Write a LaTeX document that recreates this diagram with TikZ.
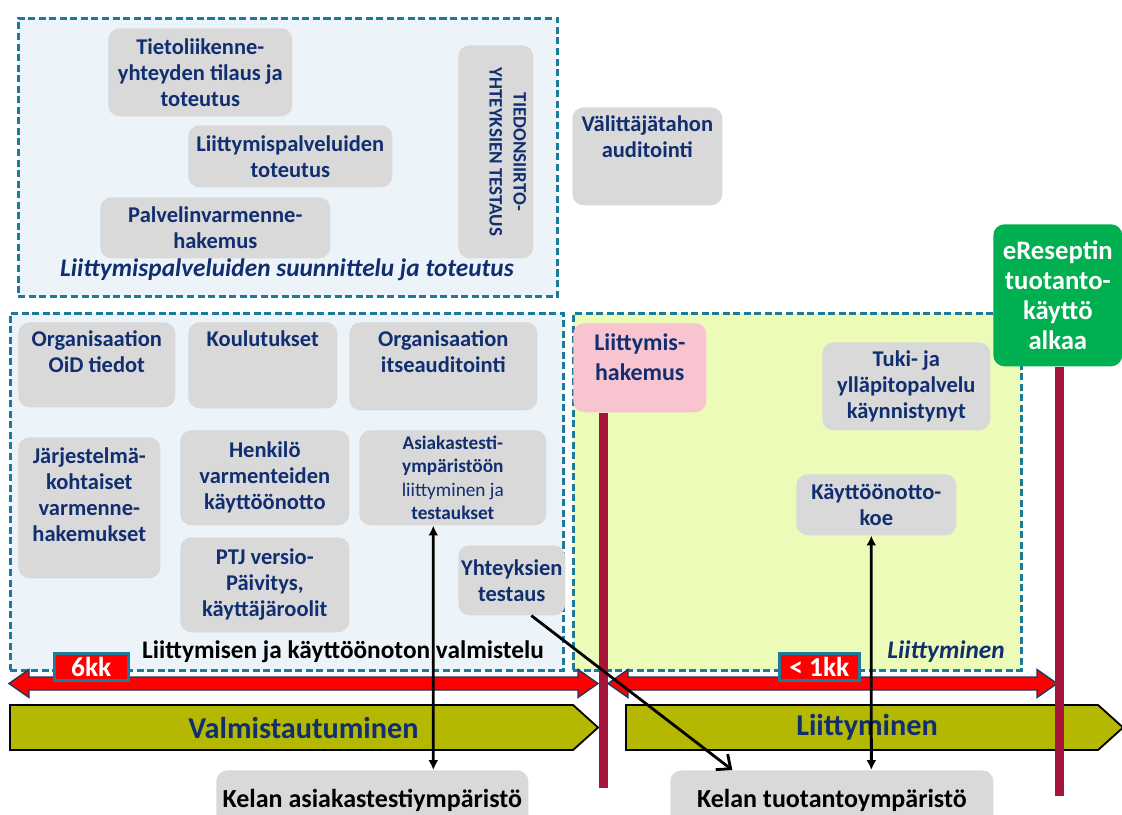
\documentclass[tikz,border=0pt]{standalone}
\usepackage{fontspec}
\setmainfont{Carlito}
\usetikzlibrary{positioning,arrows.meta,shapes.symbols}

\definecolor{tummansininen}{RGB}{16,46,112}
\definecolor{harmaa}{RGB}{217,217,217}
\definecolor{vaaleansininen}{RGB}{237,244,249}
\definecolor{turkoosi}{RGB}{28,122,154}
\definecolor{kellanvihrea}{RGB}{236,252,184}
\definecolor{roosa}{RGB}{248,196,208}
\definecolor{vihrea}{RGB}{0,176,80}
\definecolor{viininpunainen}{RGB}{166,20,58}
\definecolor{oliivi}{RGB}{181,184,0}
\definecolor{laivasto}{RGB}{31,56,100}

\newcommand{\laatikkofontti}{\fontsize{16}{18.5}\selectfont\bfseries}
\newcommand{\pienifontti}{\fontsize{13.7}{16.4}\selectfont\bfseries}
\newcommand{\pystyfontti}{\fontsize{13.5}{17}\selectfont\bfseries}
\newcommand{\hakemusfontti}{\fontsize{17}{22}\selectfont\bfseries}
\newcommand{\alkaafontti}{\fontsize{19}{21.5}\selectfont\bfseries}
\newcommand{\otsikkofontti}{\fontsize{18}{20}\selectfont\bfseries}
\newcommand{\kestofontti}{\fontsize{19.5}{20}\selectfont\bfseries}
\newcommand{\vaihefontti}{\fontsize{21.5}{26}\selectfont\bfseries}
\newcommand{\kelafontti}{\fontsize{18.5}{20}\selectfont\bfseries}

\begin{document}
\begin{tikzpicture}[x=0.025cm, y=-0.025cm,
  paneeli/.style={draw=turkoosi, line width=1.8pt, dash pattern=on 5pt off 2.5pt, anchor=north west, inner sep=0pt},
  laatikko/.style={fill=harmaa, rounded corners=8pt, anchor=north west, align=center, inner sep=2pt, text=tummansininen, font=\laatikkofontti},
  teksti/.style={align=center, text=tummansininen, font=\laatikkofontti, inner sep=0pt},
  otsikko/.style={inner sep=0pt, font=\otsikkofontti},
  kesto/.style={fill=red, draw=turkoosi, line width=1.8pt, anchor=north west, inner sep=0pt, text=white, font=\kestofontti},
  vaihe/.style={shape=signal, signal to=east, signal pointer angle=84, fill=oliivi, draw=black, line width=1.3pt, anchor=west, inner sep=0pt, minimum height=1.125cm, text=tummansininen, font=\vaihefontti},
  kela/.style={fill=harmaa, rounded corners=8pt, anchor=north west, inner sep=0pt, font=\kelafontti},
  raja/.style={draw=viininpunainen, line width=6.5pt},
  aikajana/.style={fill=red, draw=laivasto, line width=1pt},
  nuoli/.style={line width=2pt, {Latex[length=7pt,width=7pt]}-{Latex[length=7pt,width=7pt]}},
  vino/.style={line width=2pt, -{Straight Barb[length=8pt,width=14pt]}}
]
\clip (0,0) rectangle (1122,814);

% paneelit
\node[paneeli, fill=vaaleansininen, minimum width=13.475cm, minimum height=6.95cm] (suunnittelu) at (17,17) {};
\node[paneeli, fill=vaaleansininen, minimum width=13.825cm, minimum height=8.925cm] (valmistelu) at (9,312) {};
\node[paneeli, fill=kellanvihrea, minimum width=11.2cm, minimum height=8.925cm] (liittyminen) at (572,312) {};

% suunnittelu ja toteutus
\node[laatikko, minimum width=4.6cm, minimum height=2.2cm] (tietoliikenne) at (108,28) {Tietoliikenne-\\yhteyden tilaus ja\\toteutus};
\node[laatikko, minimum width=5.1cm, minimum height=1.55cm] (toteutus) at (188,125) {Liittymispalveluiden\\toteutus};
\node[laatikko, minimum width=5.75cm, minimum height=1.525cm] (palvelin) at (100,197) {Palvelinvarmenne-\\hakemus};
\node[laatikko, minimum width=1.875cm, minimum height=5.325cm] (siirto) at (458,45) {};
\node[teksti, font=\pystyfontti, rotate=-90] at ([xshift=0.3cm]siirto.center) {TIEDONSIIRTO-\\YHTEYKSIEN TESTAUS};
\node[otsikko, text=tummansininen, font=\otsikkofontti\itshape] at (287,270) {Liittymispalveluiden suunnittelu ja toteutus};

\node[laatikko, minimum width=3.75cm, minimum height=2.45cm] (valittaja) at (572,107) {};
\node[teksti, below=2.2mm of valittaja.north] {Välittäjätahon\\auditointi};

\node[laatikko, fill=vihrea, text=white, font=\alkaafontti, minimum width=3.225cm, minimum height=3.55cm] (alkaa) at (993,224) {eReseptin\\tuotanto-\\käyttö\\alkaa};

% valmistelu
\node[laatikko, minimum width=3.925cm, minimum height=2.125cm] (oid) at (18,322) {};
\node[teksti, below=2mm of oid.north] {Organisaation\\OiD tiedot};
\node[laatikko, minimum width=3.725cm, minimum height=2.15cm] (koulutukset) at (188,322) {};
\node[teksti, below=2mm of koulutukset.north] {Koulutukset};
\node[laatikko, minimum width=4.7cm, minimum height=2.2cm] (itseauditointi) at (349,322) {};
\node[teksti, below=2mm of itseauditointi.north] {Organisaation\\itseauditointi};
\node[laatikko, minimum width=3.55cm, minimum height=3.525cm] (jarjestelma) at (18,437) {};
\node[teksti, below=2.5mm of jarjestelma.north] {Järjestelmä-\\kohtaiset\\varmenne-\\hakemukset};
\node[laatikko, minimum width=4.225cm, minimum height=2.375cm] (henkilo) at (180,430) {Henkilö\\varmenteiden\\käyttöönotto};
\node[laatikko, minimum width=4.675cm, minimum height=2.375cm, font=\pienifontti] (asiakas) at (359,430) {Asiakastesti-\\ympäristöön\\{\mdseries liittyminen ja}\\testaukset};
\node[laatikko, minimum width=4.225cm, minimum height=2.375cm] (ptj) at (180,537) {PTJ versio-\\Päivitys,\\käyttäjäroolit};
\node[laatikko, minimum width=2.55cm, minimum height=1.75cm] (yhteys) at (458,545) {Yhteyksien\\testaus};
\node[otsikko] at (343,652) {Liittymisen ja käyttöönoton valmistelu};

% liittyminen
\node[laatikko, fill=roosa, minimum width=3.325cm, minimum height=2.225cm] (hakemus) at (573,323) {};
\node[teksti, font=\hakemusfontti, below=2.5mm of hakemus.north] {Liittymis-\\hakemus};
\node[laatikko, minimum width=4.2cm, minimum height=2.2cm] (tuki) at (822,342) {Tuki- ja\\ylläpitopalvelu\\käynnistynyt};
\node[laatikko, minimum width=4cm, minimum height=1.525cm] (koe) at (796,474) {Käyttöönotto-\\koe};
\node[otsikko, text=tummansininen, font=\otsikkofontti\itshape] at (946,652) {Liittyminen};

% aikajana
\foreach \alku/\loppu in {9/598, 608/1057}
  \draw[aikajana] (\alku,683.5) -- ++(20,-14) -- ++(0,7.5) -- (\loppu-20,677) -- ++(0,-7.5)
    -- (\loppu,683.5) -- ++(-20,14) -- ++(0,-7.5) -- (\alku+20,690) -- ++(0,7.5) -- cycle;
\node[kesto, minimum width=1.85cm, minimum height=0.675cm] (kuusi) at (53,652) {6kk};
\node[kesto, minimum width=2cm, minimum height=0.675cm] (alle) at (778,652) {< 1kk};

\node[vaihe, minimum width=14.7cm] (valmistautuminen) at (9,727.5) {\hspace*{0.6cm}Valmistautuminen};
\node[vaihe, minimum width=12.425cm] (liittymisvaihe) at (625,727.5) {\hspace*{0.25cm}Liittyminen};

\node[kela, minimum width=7.8cm, minimum height=1.5cm] (kela1) at (216,770) {Kelan asiakastestiympäristö};
\node[kela, minimum width=8.075cm, minimum height=1.5cm] (kela2) at (670,770) {Kelan tuotantoympäristö};

\draw[raja] ([xshift=-0.9125cm]hakemus.south) -- ++(0,375);
\draw[raja] ([xshift=0.04cm]alkaa.south) -- ++(0,429);

% nuolet
\draw[nuoli] ([xshift=-0.4875cm]asiakas.south) -- ([xshift=1.525cm]kela1.north);
\draw[nuoli] ([xshift=-0.125cm]koe.south) -- ([xshift=0.9875cm]kela2.north);
\draw[vino] (yhteys.-61) -- ([xshift=-2.4875cm]kela2.north);
\end{tikzpicture}
\end{document}
